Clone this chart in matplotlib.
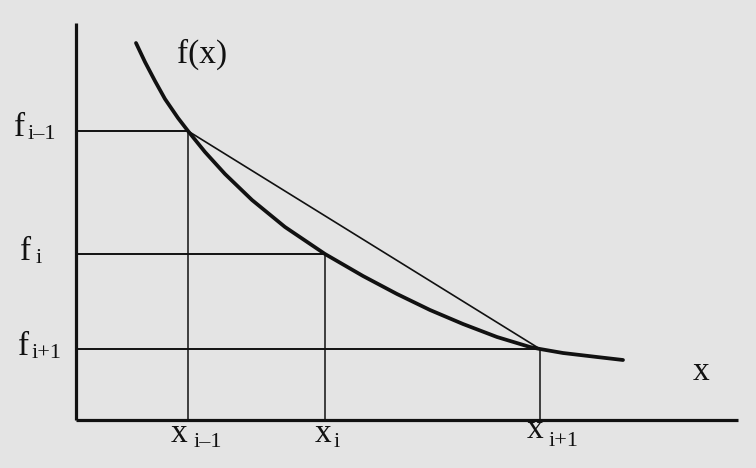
import matplotlib
matplotlib.use("Agg")
import matplotlib.pyplot as plt

curve_x = [60, 69, 79, 89, 102, 112, 129, 149, 176, 209, 249, 287, 321, 354, 387, 421, 454, 464, 487, 521, 547]
curve_f = [377, 358, 339, 321, 302, 289, 268, 246, 220, 193, 166, 144, 126, 110, 96, 83, 73, 71, 67, 63, 60]

# Nodes x_{i-1}, x_i, x_{i+1} and their values
node_x = [112, 249, 464]
node_f = [289, 166, 71]
node_sub = ["i\u20131", "i", "i+1"]

axis_x_end = 662
axis_y_end = 397

serif = ["Liberation Serif", "DejaVu Serif"]
ink = "#111111"
bg = "#e4e4e4"

fig = plt.figure(figsize=(7.56, 4.68), dpi=100, facecolor=bg)
ax = fig.add_axes([0, 0, 1, 1])
ax.set_facecolor(bg)
ax.set_xlim(-76, 680)
ax.set_ylim(-48, 420)
ax.axis("off")

# axes
ax.plot([0, 0], [0, axis_y_end], color=ink, lw=2.3, solid_capstyle="butt")
ax.plot([0, axis_x_end], [0, 0], color=ink, lw=2.3, solid_capstyle="butt")

# guide lines
for xv, fv in zip(node_x, node_f):
    ax.plot([0, xv], [fv, fv], color=ink, lw=1.4)
    ax.plot([xv, xv], [0, fv], color=ink, lw=1.1)

# chord
ax.plot([node_x[0], node_x[2]], [node_f[0], node_f[2]], color=ink, lw=1.2)

# curve
ax.plot(curve_x, curve_f, color=ink, lw=2.7, solid_capstyle="round", solid_joinstyle="round")

main_fs = 24
sub_fs = 16

def lab(x, y, main, sub, dx, dy):
    ax.text(x, y, main, fontsize=main_fs, family=serif, color=ink, ha="left", va="baseline")
    if sub:
        ax.text(x + dx, y + dy, sub, fontsize=sub_fs, family=serif, color=ink, ha="left", va="baseline")

# f labels
lab(-62, 284, "f", node_sub[0], 14, -3)
lab(-56, 160, "f", node_sub[1], 16, -3)
lab(-58, 65, "f", node_sub[2], 14, -3)

# x labels
lab(95, -22, "x", node_sub[0], 23, -5)
lab(239, -22, "x", node_sub[1], 19, -5)
lab(451, -18, "x", node_sub[2], 22, -8)

ax.text(617, 40, "x", fontsize=main_fs, family=serif, color=ink, ha="left", va="baseline")
ax.text(101, 357, "f(x)", fontsize=main_fs, family=serif, color=ink, ha="left", va="baseline")

fig.savefig("out.png", dpi=100, facecolor=bg)
